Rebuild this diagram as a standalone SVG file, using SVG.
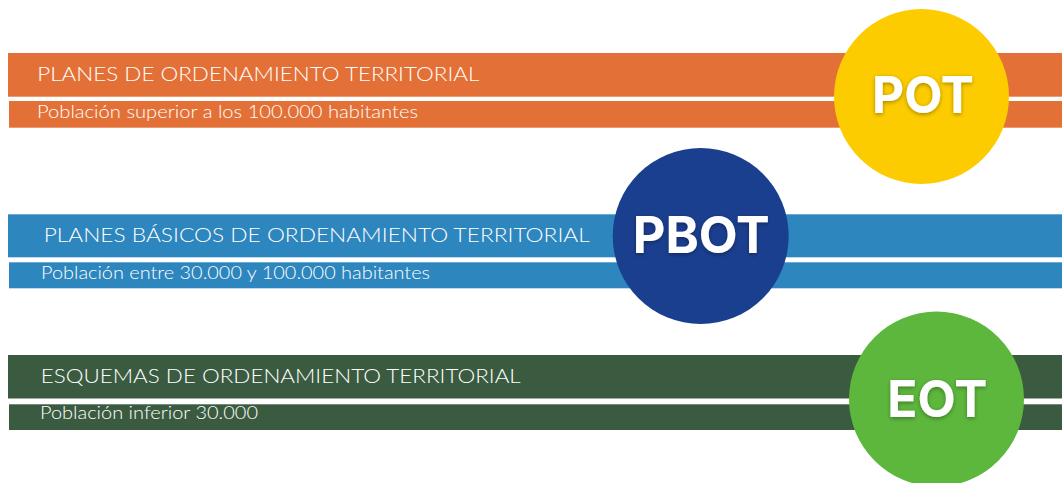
<svg xmlns="http://www.w3.org/2000/svg" width="1062" height="483" viewBox="0 0 1062 483">
  <defs>
    <style>
      .title { font-family: "Lato", "Liberation Sans", sans-serif; font-size: 19.5px; font-weight: 300; fill: #FFFFFF; }
      .sub { font-family: "Lato", "Liberation Sans", sans-serif; font-size: 17.5px; font-weight: 300; fill: #FFFFFF; }
      .badge { font-family: "Inter", "Liberation Sans", sans-serif; font-size: 51px; font-weight: 700; fill: #FFFFFF; text-anchor: middle; filter: url(#shadow); }
      .orange { fill: #E37137; }
      .blue { fill: #2E86BE; }
      .green { fill: #3B5B41; }
    </style>
    <filter id="shadow" x="-20%" y="-30%" width="140%" height="160%">
      <feDropShadow dx="0" dy="1.5" stdDeviation="2" flood-color="#000000" flood-opacity="0.35"/>
    </filter>
  </defs>
  <rect width="1062" height="483" fill="#FFFFFF"/>

  <g id="pot">
    <rect class="orange" x="8" y="53" width="1054" height="43.7"/>
    <rect class="orange" x="9" y="101" width="1053" height="26.7"/>
    <text class="title" x="37.3" y="80.7" textLength="442" lengthAdjust="spacingAndGlyphs">PLANES DE ORDENAMIENTO TERRITORIAL</text>
    <text class="sub" x="37" y="117.7" textLength="381" lengthAdjust="spacingAndGlyphs">Población superior a los 100.000 habitantes</text>
    <circle cx="921.5" cy="96.5" r="87.5" fill="#FDCC00"/>
    <text class="badge" x="923" y="112.7" textLength="102" lengthAdjust="spacingAndGlyphs">POT</text>
  </g>

  <g id="pbot">
    <rect class="blue" x="8" y="214.3" width="1054" height="43"/>
    <rect class="blue" x="9" y="262.3" width="1053" height="26"/>
    <text class="title" x="43.7" y="242.3" textLength="546" lengthAdjust="spacingAndGlyphs">PLANES BÁSICOS DE ORDENAMIENTO TERRITORIAL</text>
    <text class="sub" x="41" y="279" textLength="389" lengthAdjust="spacingAndGlyphs">Población entre 30.000 y 100.000 habitantes</text>
    <circle cx="700.7" cy="236" r="88" fill="#1B3F8F"/>
    <text class="badge" x="701.3" y="253.3" textLength="137" lengthAdjust="spacingAndGlyphs">PBOT</text>
  </g>

  <g id="eot">
    <rect class="green" x="8" y="355" width="1054" height="43.5"/>
    <rect class="green" x="9" y="404.3" width="1053" height="25.7"/>
    <text class="title" x="40.7" y="383.3" textLength="480" lengthAdjust="spacingAndGlyphs">ESQUEMAS DE ORDENAMIENTO TERRITORIAL</text>
    <text class="sub" x="40" y="419" textLength="218" lengthAdjust="spacingAndGlyphs">Población inferior 30.000</text>
    <circle cx="936.5" cy="399" r="87.5" fill="#5DB73D"/>
    <text class="badge" x="937.3" y="416.7" textLength="100" lengthAdjust="spacingAndGlyphs">EOT</text>
  </g>
</svg>
